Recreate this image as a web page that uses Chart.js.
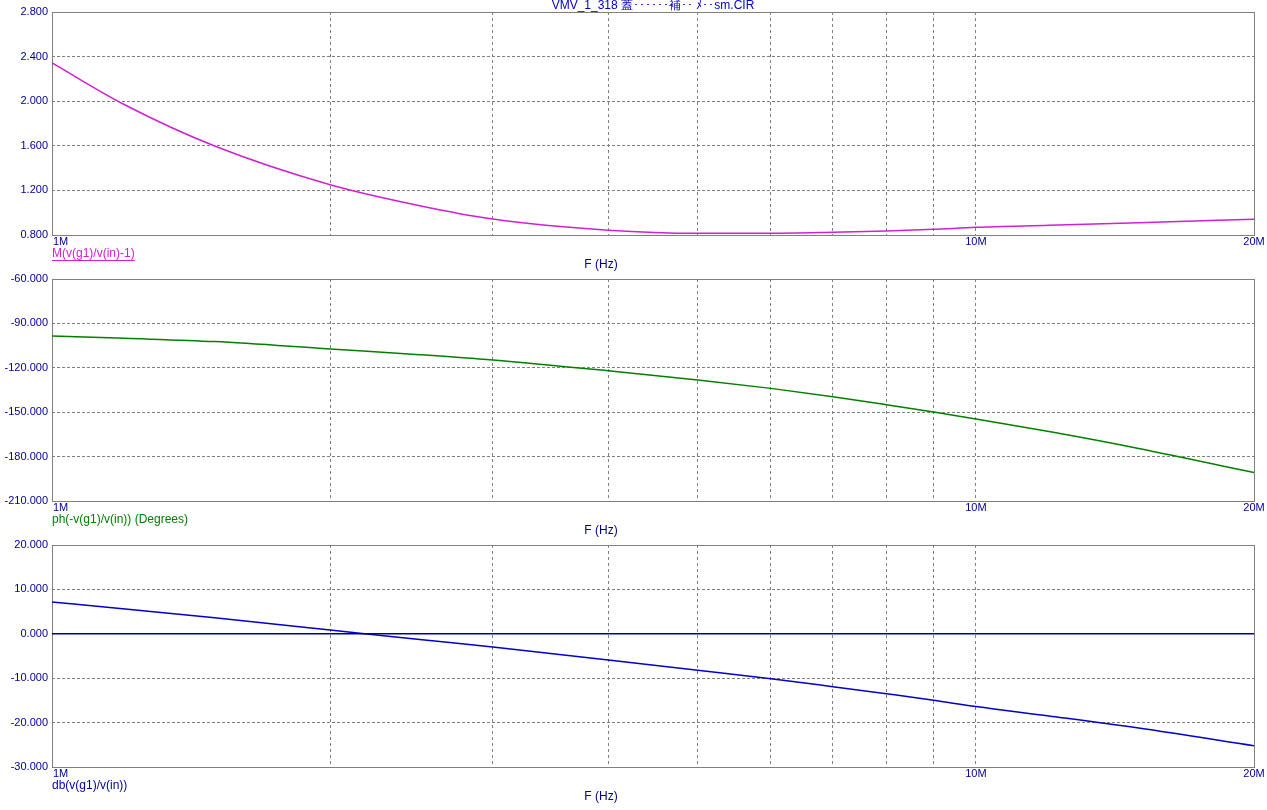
<!DOCTYPE html>
<html>
<head>
<meta charset="utf-8">
<script src="https://cdn.jsdelivr.net/npm/chart.js@4"></script>
<style>
body{margin:0;background:#fff;}
#wrap{position:relative;width:1267px;height:810px;overflow:hidden;}
canvas{position:absolute;left:0;}
</style>
</head>
<body>
<div id="wrap">
  <canvas id="mag" width="1267" height="276" style="top:0px"></canvas>
  <canvas id="phase" width="1267" height="276" style="top:266px"></canvas>
  <canvas id="db" width="1267" height="278" style="top:532px"></canvas>
</div>
<script>
// frequency points (Hz)
var freqs = [1e6, 1.2e6, 1.5e6, 2e6, 2.5e6, 3e6, 4e6, 5e6, 6e6, 7e6, 8e6, 9e6, 10e6, 12e6, 15e6, 20e6];
var magVals = [2.343, 1.966, 1.598, 1.251, 1.063, 0.943, 0.843, 0.815, 0.815, 0.824, 0.836, 0.851, 0.869, 0.887, 0.910, 0.941];
var phaseVals = [-98.5, -100.1, -102.3, -107.3, -111.1, -114.7, -122.0, -128.2, -133.9, -139.5, -144.9, -149.9, -154.6, -163.1, -174.5, -190.8];
var dbVals = [7.16, 5.6, 3.6, 0.86, -1.3, -2.97, -5.9, -8.2, -10.1, -11.9, -13.5, -14.96, -16.4, -18.5, -21.2, -25.2];
var zeroFreqs = [1e6, 20e6];
var zeroVals = [0, 0];

var xTicks = [1e6, 2e6, 3e6, 4e6, 5e6, 6e6, 7e6, 8e6, 9e6, 10e6, 20e6];
var xTickLabels = ['1M', '', '', '', '', '', '', '', '', '10M', '20M'];
var magTicks = [0.8, 1.2, 1.6, 2.0, 2.4, 2.8];
var phaseTicks = [-210, -180, -150, -120, -90, -60];
var dbTicks = [-30, -20, -10, 0, 10, 20];

var titleText = 'VMV_1_318 蓋･･････補･･ ﾒ･･sm.CIR';
var xTitle = 'F (Hz)';

var FONT = '"Liberation Sans", Arial, sans-serif';
var NAVY = '#000090';
var GRID = '#808080';

function pts(xs, ys) {
  return xs.map(function (x, i) { return {x: x, y: ys[i]}; });
}

var panelText = {
  id: 'panelText',
  beforeDatasetsDraw: function (chart) {
    var a = chart.chartArea, ctx = chart.ctx;
    ctx.save();
    ctx.strokeStyle = GRID;
    ctx.lineWidth = 1;
    ctx.setLineDash([]);
    ctx.strokeRect(a.left + 0.5, a.top + 0.5, a.right - a.left, a.bottom - a.top);
    ctx.restore();
  },
  afterDraw: function (chart, args, opts) {
    var a = chart.chartArea, ctx = chart.ctx, xs = chart.scales.x;
    ctx.save();
    ctx.font = '11px ' + FONT;
    ctx.textBaseline = 'middle';
    ctx.fillStyle = NAVY;
    xTicks.forEach(function (v, i) {
      if (!xTickLabels[i]) return;
      var px = xs.getPixelForValue(v);
      ctx.textAlign = i === 0 ? 'left' : 'center';
      ctx.fillText(xTickLabels[i], i === 0 ? px + 1 : px, a.bottom + 7);
    });
    ctx.font = '12px ' + FONT;
    ctx.textAlign = 'center';
    ctx.fillText(xTitle, 601, a.bottom + 30);
    // series name
    ctx.textAlign = 'left';
    ctx.fillStyle = opts.color;
    ctx.fillText(opts.label, a.left, a.bottom + 19);
    if (opts.underline) {
      var w = ctx.measureText(opts.label).width;
      ctx.strokeStyle = opts.color;
      ctx.lineWidth = 1;
      ctx.beginPath();
      ctx.moveTo(a.left, a.bottom + 25.5);
      ctx.lineTo(a.left + w, a.bottom + 25.5);
      ctx.stroke();
    }
    if (opts.title) {
      ctx.textAlign = 'center';
      ctx.fillStyle = '#0000c0';
      ctx.fillText(opts.title, (a.left + a.right) / 2, 6);
    }
    ctx.restore();
  }
};

function makeChart(id, datasets, yTicks, pad, textOpts) {
  return new Chart(document.getElementById(id).getContext('2d'), {
    type: 'line',
    data: {datasets: datasets},
    options: {
      responsive: false,
      animation: false,
      layout: {padding: {left: 0, right: 13, top: pad[0], bottom: pad[1]}},
      plugins: {legend: {display: false}, tooltip: {enabled: false}, panelText: textOpts},
      elements: {point: {radius: 0}},
      scales: {
        x: {
          type: 'logarithmic',
          min: 1e6,
          max: 20e6,
          afterBuildTicks: function (s) { s.ticks = xTicks.map(function (v) { return {value: v}; }); },
          afterFit: function (s) { s.height = 0; },
          ticks: {display: false},
          border: {display: false, dash: [3, 3]},
          grid: {
            drawTicks: false,
            lineWidth: 1,
            color: function (c) { return (c.tick && (c.tick.value === 1e6 || c.tick.value === 20e6)) ? 'rgba(0,0,0,0)' : GRID; }
          }
        },
        y: {
          min: yTicks[0],
          max: yTicks[yTicks.length - 1],
          afterBuildTicks: function (s) { s.ticks = yTicks.map(function (v) { return {value: v}; }); },
          afterFit: function (s) { s.width = 52; },
          border: {display: false, dash: [3, 2]},
          grid: {
            drawTicks: false,
            lineWidth: 1,
            color: function (c) { return (c.tick && (c.tick.value === yTicks[0] || c.tick.value === yTicks[yTicks.length - 1])) ? 'rgba(0,0,0,0)' : GRID; }
          },
          ticks: {
            padding: 4,
            color: NAVY,
            font: {family: FONT, size: 11},
            callback: function (v) { return Number(v).toFixed(3); }
          }
        }
      }
    },
    plugins: [panelText]
  });
}

makeChart('mag', [{
  data: pts(freqs, magVals),
  borderColor: '#d020d0',
  borderWidth: 1.5,
  cubicInterpolationMode: 'monotone'
}], magTicks, [12, 41], {label: 'M(v(g1)/v(in)-1)', color: '#d020d0', underline: true, title: titleText});

makeChart('phase', [{
  data: pts(freqs, phaseVals),
  borderColor: '#008000',
  borderWidth: 1.5,
  cubicInterpolationMode: 'monotone'
}], phaseTicks, [13, 41], {label: 'ph(-v(g1)/v(in)) (Degrees)', color: '#008000'});

makeChart('db', [{
  data: pts(zeroFreqs, zeroVals),
  borderColor: '#000090',
  borderWidth: 1.5
}, {
  data: pts(freqs, dbVals),
  borderColor: '#0000c8',
  borderWidth: 1.5,
  cubicInterpolationMode: 'monotone'
}], dbTicks, [13, 43], {label: 'db(v(g1)/v(in))', color: '#0000a0'});
</script>
</body>
</html>
